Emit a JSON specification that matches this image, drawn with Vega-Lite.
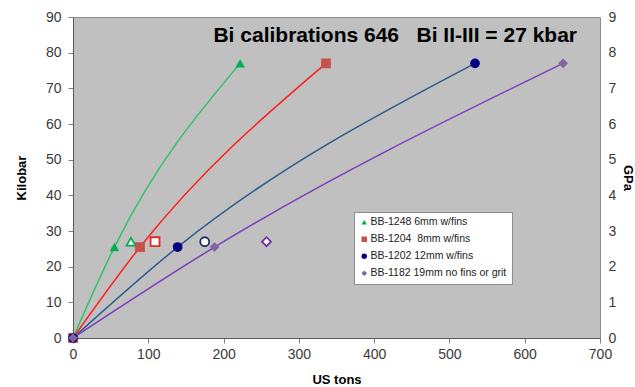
{
  "$schema": "https://vega.github.io/schema/vega-lite/v6.json",
  "width": 527,
  "height": 321,
  "autosize": {"type": "none"},
  "padding": {"left": 73, "top": 17, "right": 35, "bottom": 49},
  "background": "white",
  "title": {
    "text": "Bi calibrations 646\u00a0\u00a0\u00a0Bi II-III = 27 kbar",
    "anchor": "end",
    "frame": "group",
    "dx": -23,
    "offset": -53,
    "baseline": "alphabetic",
    "font": "Liberation Sans",
    "fontSize": 21,
    "fontWeight": "bold",
    "color": "#000000"
  },
  "config": {
    "view": {"fill": "#c0c0c0", "stroke": "#8c8c8c", "strokeWidth": 1},
    "axis": {
      "grid": false,
      "labelFont": "Liberation Sans",
      "labelFontSize": 14,
      "labelColor": "#3a3a3a",
      "titleFont": "Liberation Sans",
      "titleFontSize": 13,
      "titleFontWeight": "bold",
      "titleColor": "#000000",
      "tickColor": "#808080",
      "tickSize": 5,
      "domainColor": "#595959",
      "labelFlush": false
    }
  },
  "data": {
    "values": [
      {"series": "BB-1248 6mm w/fins", "kind": "fit", "tons": 0, "kbar": 0},
      {"series": "BB-1248 6mm w/fins", "kind": "fit", "tons": 55, "kbar": 25.5},
      {"series": "BB-1248 6mm w/fins", "kind": "fit", "tons": 222, "kbar": 77},
      {"series": "BB-1248 6mm w/fins", "kind": "open", "tons": 77, "kbar": 27},
      {"series": "BB-1204\u00a0 8mm w/fins", "kind": "fit", "tons": 0, "kbar": 0},
      {"series": "BB-1204\u00a0 8mm w/fins", "kind": "fit", "tons": 89, "kbar": 25.5},
      {"series": "BB-1204\u00a0 8mm w/fins", "kind": "fit", "tons": 336, "kbar": 77},
      {"series": "BB-1204\u00a0 8mm w/fins", "kind": "open", "tons": 109, "kbar": 27},
      {"series": "BB-1202 12mm w/fins", "kind": "fit", "tons": 0, "kbar": 0},
      {"series": "BB-1202 12mm w/fins", "kind": "fit", "tons": 139, "kbar": 25.5},
      {"series": "BB-1202 12mm w/fins", "kind": "fit", "tons": 534, "kbar": 77},
      {"series": "BB-1202 12mm w/fins", "kind": "open", "tons": 175, "kbar": 27},
      {"series": "BB-1182 19mm no fins or grit", "kind": "fit", "tons": 0, "kbar": 0},
      {"series": "BB-1182 19mm no fins or grit", "kind": "fit", "tons": 188, "kbar": 25.5},
      {"series": "BB-1182 19mm no fins or grit", "kind": "fit", "tons": 651, "kbar": 77},
      {"series": "BB-1182 19mm no fins or grit", "kind": "open", "tons": 257, "kbar": 27}
    ]
  },
  "encoding": {
    "x": {
      "field": "tons",
      "type": "quantitative",
      "scale": {"domain": [0, 700], "nice": false},
      "axis": {
        "title": "US tons",
        "values": [0, 100, 200, 300, 400, 500, 600, 700],
        "labelPadding": 4,
        "titlePadding": 12
      }
    }
  },
  "layer": [
    {
      "transform": [{"filter": "datum.kind === 'fit'"}],
      "mark": {"type": "line", "interpolate": "monotone", "strokeWidth": 1.5},
      "encoding": {
        "y": {
          "field": "kbar",
          "type": "quantitative",
          "scale": {"domain": [0, 90], "nice": false},
          "axis": {
            "title": "Kilobar",
            "values": [0, 10, 20, 30, 40, 50, 60, 70, 80, 90],
            "labelPadding": 7,
            "titlePadding": 17
          }
        },
        "color": {
          "field": "series",
          "type": "nominal",
          "scale": {"range": ["#7c3cbc", "#2b5a8c", "#ff1f1f", "#2ec462"]},
          "legend": null
        }
      }
    },
    {
      "transform": [{"filter": "datum.kind === 'open'"}],
      "mark": {"type": "point", "filled": false, "fill": "#ffffff", "fillOpacity": 1, "opacity": 1, "strokeWidth": 1.8, "size": 80},
      "encoding": {
        "y": {"field": "kbar", "type": "quantitative", "axis": null},
        "stroke": {
          "field": "series",
          "type": "nominal",
          "scale": {"range": ["#7030a0", "#1c2a6e", "#e02a2a", "#00b050"]},
          "legend": null
        },
        "shape": {
          "field": "series",
          "type": "nominal",
          "scale": {
            "domain": ["BB-1248 6mm w/fins", "BB-1204\u00a0 8mm w/fins", "BB-1202 12mm w/fins", "BB-1182 19mm no fins or grit"],
            "range": ["triangle-up", "square", "circle", "diamond"]
          }
        }
      }
    },
    {
      "transform": [{"filter": "datum.kind === 'fit'"}],
      "mark": {"type": "point", "filled": true, "opacity": 1, "strokeWidth": 0, "size": 95},
      "encoding": {
        "y": {"field": "kbar", "type": "quantitative", "axis": null},
        "fill": {
          "field": "series",
          "type": "nominal",
          "scale": {
            "domain": ["BB-1248 6mm w/fins", "BB-1204\u00a0 8mm w/fins", "BB-1202 12mm w/fins", "BB-1182 19mm no fins or grit"],
            "range": ["#00b050", "#c8504c", "#000080", "#8064a2"]
          },
          "legend": {
            "orient": "none",
            "legendX": 281,
            "legendY": 195,
            "title": null,
            "fillColor": "#ffffff",
            "strokeColor": "#8c8c8c",
            "padding": 5,
            "rowPadding": 6,
            "labelFont": "Liberation Sans",
            "labelFontSize": 10.5,
            "labelColor": "#222222",
            "labelOffset": 1,
            "symbolSize": 30,
            "symbolStrokeWidth": 0,
            "symbolOpacity": 1
          }
        },
        "shape": {"field": "series", "type": "nominal"}
      }
    },
    {
      "transform": [{"filter": "datum.kind === 'fit'"}],
      "mark": {"type": "point", "opacity": 0},
      "encoding": {
        "y": {
          "field": "kbar",
          "type": "quantitative",
          "axis": {
            "orient": "right",
            "title": "GPa",
            "values": [0, 10, 20, 30, 40, 50, 60, 70, 80, 90],
            "labelExpr": "datum.value / 10",
            "ticks": false,
            "domain": false,
            "labelPadding": 8,
            "titlePadding": 5
          }
        }
      }
    }
  ],
  "resolve": {"axis": {"y": "independent"}}
}
